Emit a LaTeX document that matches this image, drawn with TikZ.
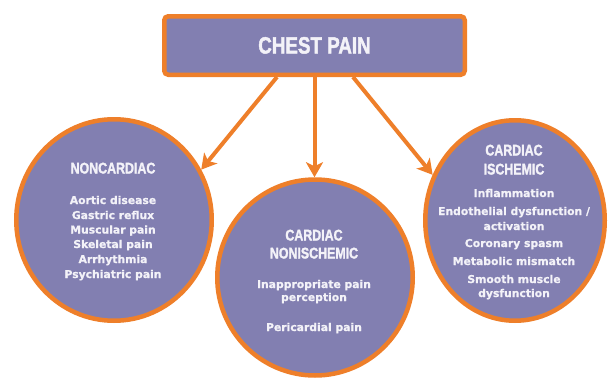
\documentclass[tikz,border=0pt]{standalone}
\usepackage{fontspec}
\setmainfont{DejaVu Sans}
\newfontfamily\hfont[FakeBold=2]{Liberation Sans Bold}
\newfontfamily\ifont[FakeBold=0.8]{DejaVu Sans Bold}
\newcommand\condtxt[1]{\scalebox{0.8}[1]{#1}}
\usetikzlibrary{arrows.meta,shapes.geometric}
\definecolor{purp}{HTML}{827FB1}
\definecolor{orng}{HTML}{EE7F2A}
\definecolor{txt}{HTML}{F3F2F8}
\tikzset{
  bubble/.style={ellipse, draw=orng, fill=purp, line width=4.5pt, inner sep=0pt},
  titlebox/.style={rectangle, rounded corners=4pt, draw=orng, fill=purp, line width=4.5pt, inner sep=0pt,
    minimum width=300.5pt, minimum height=58.5pt},
  head/.style={text=txt, font=\hfont\fontsize{15.5}{17}\selectfont, anchor=base, inner sep=0pt},
  item/.style={text=txt, font=\ifont\fontsize{10.8}{13}\selectfont, anchor=base, inner sep=0pt},
  arr/.style={draw=orng, line width=4pt, -{Stealth[length=15pt,width=17pt,inset=4pt]}}
}
\begin{document}
\begin{tikzpicture}[x=1pt,y=-1pt]
\useasboundingbox (0,0) rectangle (608,380);
% title
\node[titlebox] (title) at (314.5,45.5) {};
\node[text=txt, font=\hfont\fontsize{23.5}{26}\selectfont, anchor=base, inner sep=0pt] (titletext) at (314.5,53.5) {\condtxt{CHEST PAIN}};
% bubbles
\node[bubble, minimum width=195.5pt, minimum height=201.5pt] (left) at (114,220) {};
\node[bubble, minimum width=195.5pt, minimum height=196pt] (mid) at (315,277.5) {};
\node[bubble, minimum width=179.5pt, minimum height=200.5pt] (right) at (515,220.5) {};
% arrows
\draw[arr] ([xshift=-37.5pt]title.south) -- (left.30);
\draw[arr] (title.south) -- (title.south |- mid.north);
\draw[arr] ([xshift=38.5pt]title.south) -- (right.151);
% left text
\node[head] (lh) at (113,173.5) {\condtxt{NONCARDIAC}};
\foreach \t/\y [count=\i] in {Aortic disease/204, Gastric reflux/219, Muscular pain/233.5, Skeletal pain/248, Arrhythmia/263, Psychiatric pain/278}
  \node[item] (l\i) at (113,\y) {\t};
% middle text
\node[head] (mh1) at (314,240.5) {\condtxt{CARDIAC}};
\node[head] (mh2) at (314,258.5) {\condtxt{NONISCHEMIC}};
\foreach \t/\y [count=\i] in {Inappropriate pain/288, perception/301, Pericardial pain/331}
  \node[item] (m\i) at (314,\y) {\t};
% right text
\node[head] (rh1) at (514,155.5) {\condtxt{CARDIAC}};
\node[head] (rh2) at (514,174.5) {\condtxt{ISCHEMIC}};
\foreach \t/\y [count=\i] in {Inflammation/197, {Endothelial dysfunction /}/215, activation/230, Coronary spasm/247, Metabolic mismatch/265, Smooth muscle/283, dysfunction/297}
  \node[item] (r\i) at (514,\y) {\t};
\end{tikzpicture}
\end{document}
